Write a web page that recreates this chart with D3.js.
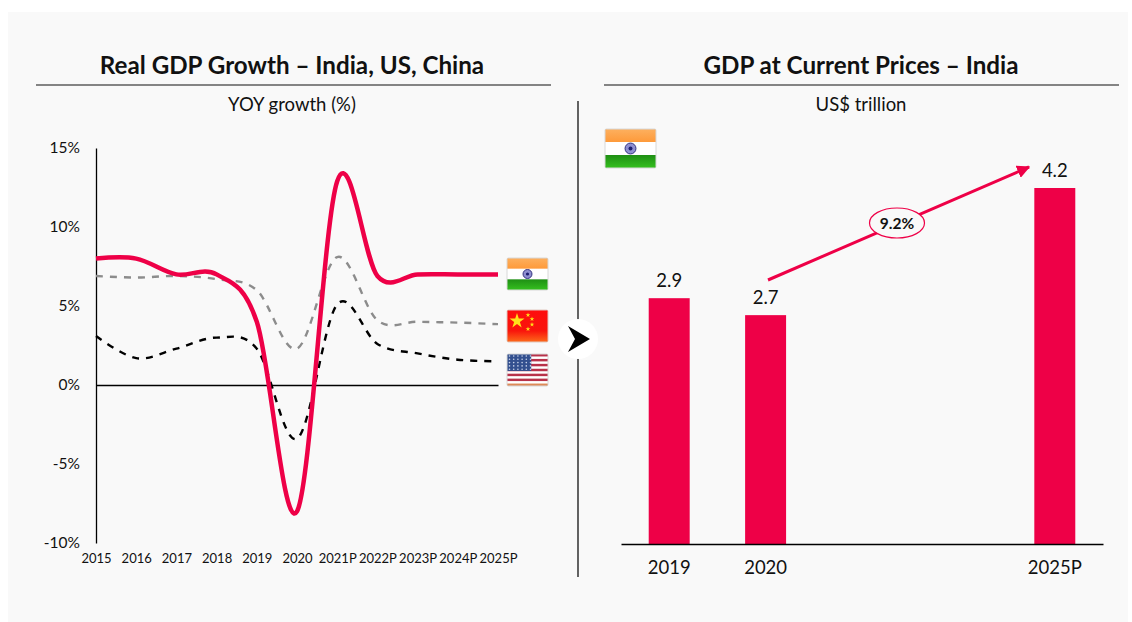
<!DOCTYPE html>
<html>
<head>
<meta charset="utf-8">
<script src="https://cdn.jsdelivr.net/npm/d3@7/dist/d3.min.js"></script>
<style>
  html, body { margin: 0; padding: 0; background: #fff; }
  svg { display: block; font-family: Lato, "Open Sans", sans-serif; }
  text { fill: #111; }
  .axis { font-family: Lato, "Open Sans", sans-serif; }
  .axis .domain { stroke: #000; stroke-width: 1.3; }
  .axis .tick line { display: none; }
</style>
</head>
<body>
<svg id="chart" width="1132" height="622"></svg>
<script>
// left chart
var years = ["2015", "2016", "2017", "2018", "2019", "2020", "2021P", "2022P", "2023P", "2024P", "2025P"];
var india = [8.0, 8.0, 7.0, 7.0, 4.0, -8.0, 12.9, 6.9, 7.0, 7.0, 7.0];
var china = [6.9, 6.8, 6.9, 6.7, 6.0, 2.3, 8.1, 4.1, 4.0, 3.95, 3.85];
var us = [3.1, 1.7, 2.3, 3.0, 2.3, -3.4, 5.1, 2.6, 2.0, 1.6, 1.5];
var growthTicks = [-10, -5, 0, 5, 10, 15];

// right chart
var gdpYears = ["2019", "2020", "", " ", "2025P"];
var gdpValues = [2.9, 2.7, null, null, 4.2];
var cagrLabel = "9.2%";

var RED = "#ee0047";
var svg = d3.select("#chart");

var defs = svg.append("defs");
function gloss(id, stops) {
    var g = defs.append("linearGradient").attr("id", id).attr("x1", 0).attr("y1", 0).attr("x2", 0).attr("y2", 1);
    stops.forEach(function (s) { g.append("stop").attr("offset", s[0]).attr("stop-color", s[1]); });
}
gloss("saffron", [[0, "#fdb05f"], [1, "#fe9a3a"]]);
gloss("green", [[0, "#1f8f14"], [1, "#35c01f"]]);
gloss("red", [[0, "#fe0d0d"], [0.65, "#f9150c"], [1, "#fd6a1a"]]);
var arrowMarker = defs.append("marker").attr("id", "head").attr("viewBox", "0 0 10 10")
    .attr("refX", 9).attr("refY", 5).attr("markerWidth", 4.4).attr("markerHeight", 4.4)
    .attr("orient", "auto");
arrowMarker.append("path").attr("d", "M0,0L10,5L0,10Z").attr("fill", RED);

// background panel
svg.append("rect").attr("x", 8).attr("y", 12).attr("width", 1120).attr("height", 610).attr("fill", "#f9f9f9");

function title(x, txt) {
    svg.append("text").attr("x", x).attr("y", 74).attr("text-anchor", "middle")
        .attr("font-size", 24.2).attr("font-weight", 700).attr("fill", "#000").text(txt);
}
title(292, "Real GDP Growth – India, US, China");
title(861, "GDP at Current Prices – India");

[[36, 551], [604, 1119]].forEach(function (r) {
    svg.append("line").attr("x1", r[0]).attr("x2", r[1]).attr("y1", 85).attr("y2", 85)
        .attr("stroke", "#111").attr("stroke-width", 1.2);
});

svg.append("text").attr("x", 292).attr("y", 111).attr("text-anchor", "middle").attr("font-size", 18.5).text("YOY growth (%)");
svg.append("text").attr("x", 861).attr("y", 111).attr("text-anchor", "middle").attr("font-size", 18.5).text("US$ trillion");

// divider
svg.append("line").attr("x1", 578).attr("x2", 578).attr("y1", 101).attr("y2", 577)
    .attr("stroke", "#111").attr("stroke-width", 1.3);

// growth chart
var x = d3.scalePoint().domain(years).range([96, 498]);
var y = d3.scaleLinear().domain([-10, 15]).range([543, 148]);

svg.append("g").attr("class", "axis").attr("transform", "translate(96,0)")
    .call(d3.axisLeft(y).tickValues(growthTicks).tickSize(0).tickPadding(16).tickFormat(function (d) { return d + "%"; }))
    .selectAll("text").attr("font-size", 15.5).attr("dy", "0.32em").attr("fill", "#111");

var xAxis = svg.append("g").attr("class", "axis").attr("transform", "translate(0," + y(0) + ")")
    .call(d3.axisBottom(x).tickSize(0));
xAxis.select(".domain").attr("stroke-width", 1);
xAxis.selectAll("text").attr("font-size", 13).attr("y", 178).attr("dy", 0).attr("fill", "#111");

var line = d3.line()
    .x(function (d, i) { return x(years[i]); })
    .y(function (d) { return y(d); })
    .curve(d3.curveCatmullRom.alpha(0));

svg.append("path").datum(china).attr("d", line).attr("fill", "none")
    .attr("stroke", "#8c8c8c").attr("stroke-width", 2.4).attr("stroke-dasharray", "7 7");
svg.append("path").datum(us).attr("d", line).attr("fill", "none")
    .attr("stroke", "#000").attr("stroke-width", 2.4).attr("stroke-dasharray", "7 7");
svg.append("path").datum(india).attr("d", line).attr("fill", "none")
    .attr("stroke", RED).attr("stroke-width", 4.5);

// flags
function flagIndia(px, py, w, h) {
    var g = svg.append("g").attr("transform", "translate(" + px + "," + py + ")");
    g.append("rect").attr("width", w).attr("height", h).attr("fill", "#fff");
    g.append("rect").attr("width", w).attr("height", h / 3).attr("fill", "url(#saffron)");
    g.append("rect").attr("y", h * 2 / 3).attr("width", w).attr("height", h / 3).attr("fill", "url(#green)");
    g.append("circle").attr("cx", w / 2).attr("cy", h / 2).attr("r", h * 0.14)
        .attr("fill", "#8f8fd0").attr("stroke", "#33337f").attr("stroke-width", 1);
    g.append("circle").attr("cx", w / 2).attr("cy", h / 2).attr("r", h * 0.05).attr("fill", "#1d1d70");
    g.append("rect").attr("width", w).attr("height", h).attr("rx", 1.5).attr("fill", "none").attr("stroke", "#d8d8d8");
}
function flagChina(px, py, w, h) {
    var g = svg.append("g").attr("transform", "translate(" + px + "," + py + ")");
    g.append("rect").attr("width", w).attr("height", h).attr("fill", "url(#red)");
    var star = d3.symbol().type(d3.symbolStar);
    g.append("path").attr("d", star.size(70)()).attr("transform", "translate(10,11)").attr("fill", "#ffe21a");
    [[21, 5], [25, 9], [25, 14.5], [21, 19]].forEach(function (p) {
        g.append("path").attr("d", star.size(7)()).attr("transform", "translate(" + p[0] + "," + p[1] + ")").attr("fill", "#ffe21a");
    });
    g.append("rect").attr("width", w).attr("height", h).attr("rx", 1.5).attr("fill", "none").attr("stroke", "#e0c8c0");
}
function flagUs(px, py, w, h) {
    var g = svg.append("g").attr("transform", "translate(" + px + "," + py + ")");
    g.append("rect").attr("width", w).attr("height", h).attr("fill", "#fff");
    d3.range(0, 7).forEach(function (i) {
        g.append("rect").attr("y", i * h / 6.5).attr("width", w).attr("height", h / 13)
            .attr("fill", i === 6 ? "#dd8a58" : "#b8324a");
    });
    g.append("rect").attr("width", w * 0.59).attr("height", h * 0.53).attr("fill", "#33508f");
    d3.range(0, 5).forEach(function (r) {
        d3.range(0, 6).forEach(function (c) {
            g.append("circle").attr("cx", 2.5 + c * 4.2).attr("cy", 2 + r * 3.3).attr("r", 0.8).attr("fill", "#c9d3ea");
        });
    });
    g.append("rect").attr("width", w).attr("height", h).attr("rx", 1.5).attr("fill", "none").attr("stroke", "#d8d8d8");
}
flagIndia(507, 258, 41, 32);
flagChina(507, 310, 41, 32);
flagUs(507, 354, 41, 32);
flagIndia(605, 129, 51, 39);

// chevron between the panels
svg.append("circle").attr("cx", 578).attr("cy", 339).attr("r", 20).attr("fill", "#fff");
svg.append("path").attr("d", "M568,326L590,339L568,352L575,339Z").attr("fill", "#000");

// gdp chart
var x2 = d3.scaleBand().domain(gdpYears).range([621, 1103]).paddingInner(0.575).paddingOuter(0.2875);
var y2 = d3.scaleLinear().domain([0, 4.2]).range([544, 188]);

var bars = gdpYears.map(function (d, i) { return { year: d, value: gdpValues[i] }; })
    .filter(function (d) { return d.value !== null; });

svg.selectAll(".bar").data(bars).enter().append("rect").attr("class", "bar")
    .attr("x", function (d) { return x2(d.year); })
    .attr("y", function (d) { return y2(d.value); })
    .attr("width", x2.bandwidth())
    .attr("height", function (d) { return y2(0) - y2(d.value); })
    .attr("fill", RED);

svg.selectAll(".val").data(bars).enter().append("text").attr("class", "val")
    .attr("x", function (d) { return x2(d.year) + x2.bandwidth() / 2; })
    .attr("y", function (d) { return y2(d.value) - 11; })
    .attr("text-anchor", "middle").attr("font-size", 18.5)
    .text(function (d) { return d.value.toFixed(1); });

var xAxis2 = svg.append("g").attr("class", "axis").attr("transform", "translate(0," + y2(0) + ")")
    .call(d3.axisBottom(x2).tickSize(0).tickPadding(17));
xAxis2.select(".domain").attr("stroke-width", 1.3);
xAxis2.selectAll("text").attr("font-size", 18.5).attr("fill", "#111");

// growth arrow
svg.append("line").attr("x1", 768).attr("y1", 280).attr("x2", 1029).attr("y2", 167)
    .attr("stroke", RED).attr("stroke-width", 3).attr("marker-end", "url(#head)");
svg.append("ellipse").attr("cx", 897).attr("cy", 223).attr("rx", 27.5).attr("ry", 15)
    .attr("fill", "#f9f9f9").attr("stroke", RED).attr("stroke-width", 1.2);
svg.append("text").attr("x", 897).attr("y", 228.5).attr("text-anchor", "middle")
    .attr("font-size", 15.5).attr("font-weight", 700).text(cagrLabel);
</script>
</body>
</html>
